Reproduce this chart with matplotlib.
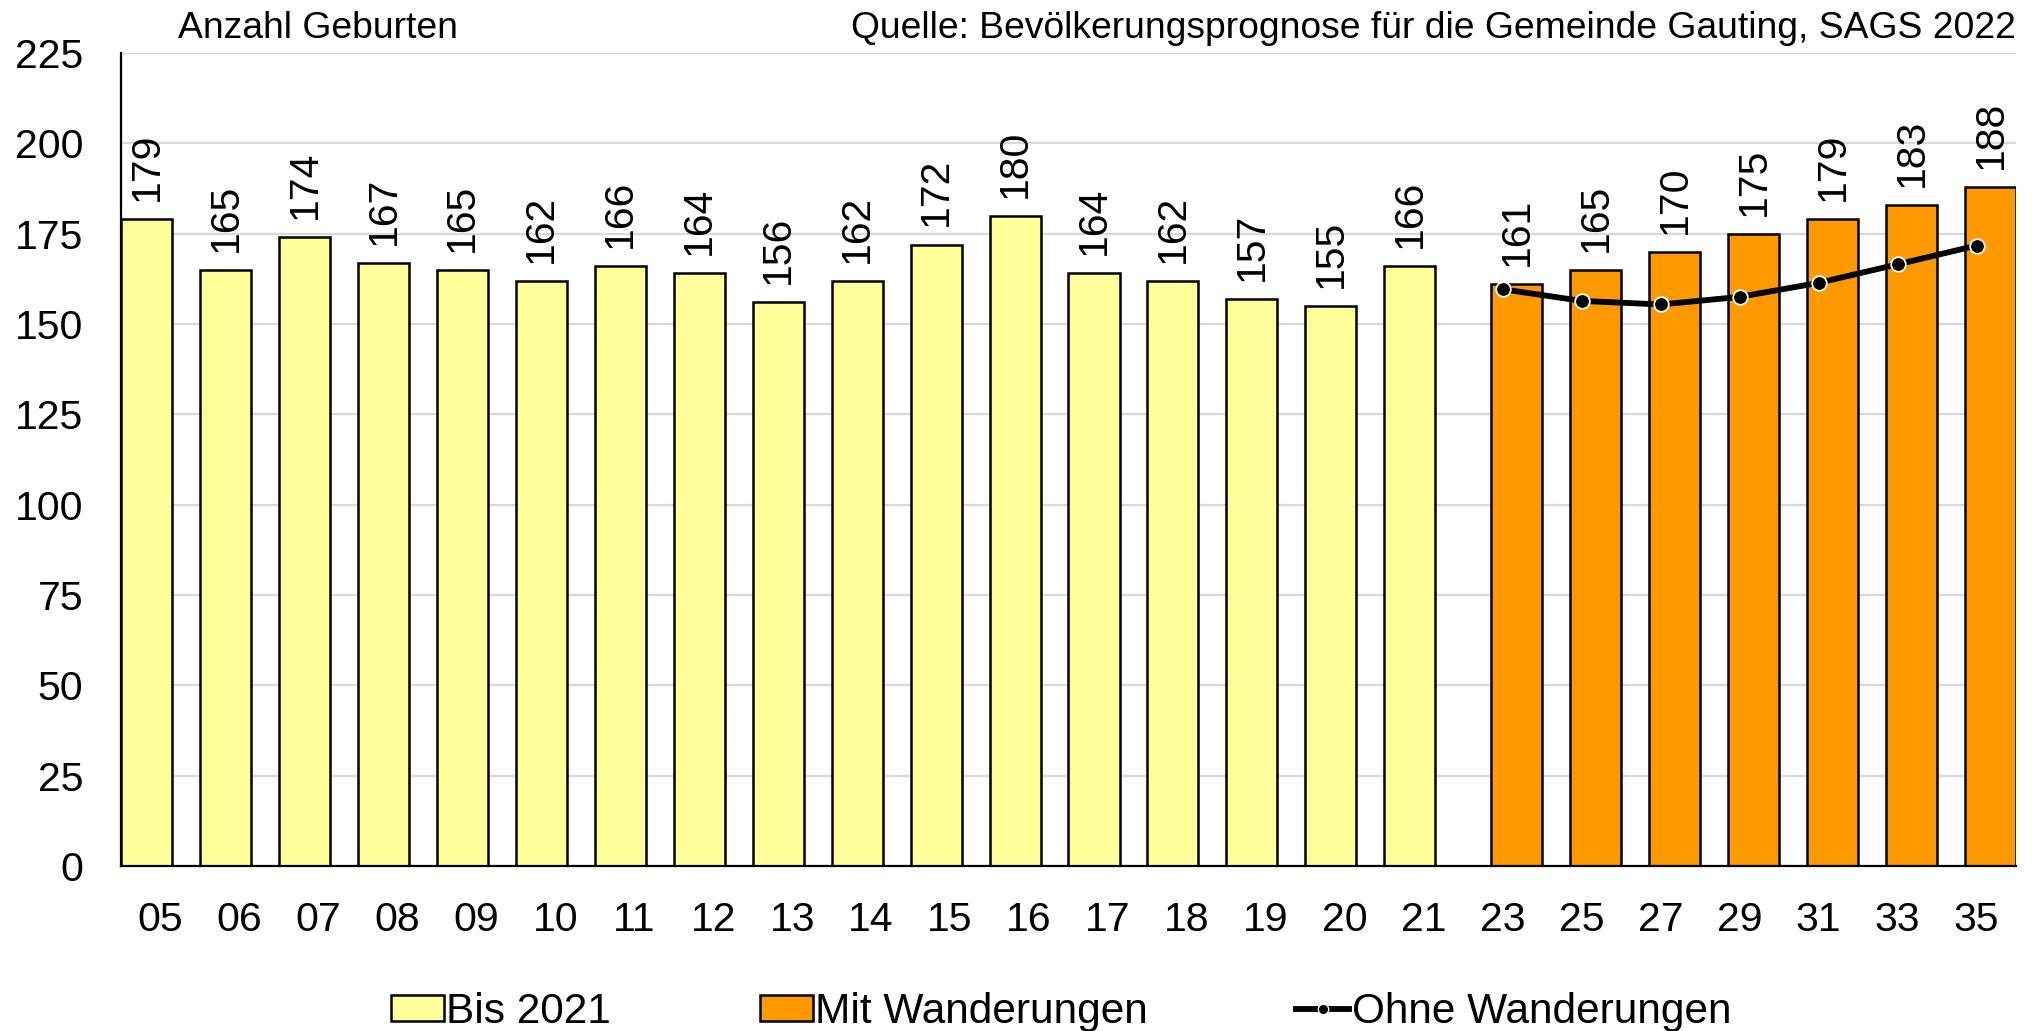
import numpy as np
import matplotlib.pyplot as plt
from matplotlib.patches import Patch
from matplotlib.lines import Line2D

plt.rcParams['font.family'] = ['Liberation Sans', 'DejaVu Sans']

# data
jahre = ['05', '06', '07', '08', '09', '10', '11', '12', '13', '14', '15', '16',
         '17', '18', '19', '20', '21', '23', '25', '27', '29', '31', '33', '35']
bis_2021 = [179, 165, 174, 167, 165, 162, 166, 164, 156, 162, 172, 180, 164, 162, 157, 155, 166]
mit_wanderungen = [161, 165, 170, 175, 179, 183, 188]
ohne_wanderungen = [159.6, 156.4, 155.4, 157.5, 161.4, 166.5, 171.7]

yticks = [0, 25, 50, 75, 100, 125, 150, 175, 200, 225]

GELB = '#FFFF99'
ORANGE = '#FF9900'
GRID = '#D9D9D9'

x = np.arange(len(jahre))
n_hist = len(bis_2021)
x_hist = x[:n_hist]
x_prog = x[n_hist:]

# two clustered series per category, each sits off-centre
shift = 0.177
width = 0.646

fig = plt.figure(figsize=(20.4, 10.31), dpi=100)
ax = fig.add_axes([121 / 2040, 165 / 1031, 1895 / 2040, 813 / 1031])

bars1 = ax.bar(x_hist - shift, bis_2021, width=width, color=GELB,
               edgecolor='black', linewidth=1.8, zorder=2)
bars2 = ax.bar(x_prog + shift, mit_wanderungen, width=width, color=ORANGE,
               edgecolor='black', linewidth=1.8, zorder=2)

ax.plot(x_prog, ohne_wanderungen, color='black', lw=4.2, marker='o',
        markersize=10.5, markerfacecolor='black', markeredgecolor='white',
        markeredgewidth=1.3, zorder=4)

for bars in (bars1, bars2):
    for b in bars:
        ax.annotate(f'{int(b.get_height())}',
                    (b.get_x() + b.get_width() / 2, b.get_height()),
                    xytext=(0, 13), textcoords='offset points',
                    rotation=90, ha='center', va='bottom', fontsize=29.5, zorder=5)

ax.set_xlim(-0.5, len(jahre) - 0.5)
ax.set_ylim(0, 225)
ax.set_yticks(yticks)
ax.set_xticks(x)
ax.set_xticklabels(jahre)
ax.tick_params(axis='both', length=0, labelsize=29.5)
ax.tick_params(axis='y', pad=27)
ax.tick_params(axis='x', pad=25)

ax.yaxis.grid(True, color=GRID, lw=1.6)
ax.set_axisbelow(True)
for s in ('top', 'right'):
    ax.spines[s].set_visible(False)
ax.spines['left'].set_linewidth(1.6)
ax.spines['bottom'].set_linewidth(1.6)
ax.spines['bottom'].set_zorder(3)

fig.text(178 / 2040, 1 - 38 / 1031, 'Anzahl Geburten', fontsize=26.8,
         ha='left', va='baseline')
fig.text(2016 / 2040, 1 - 38 / 1031,
         'Quelle: Bevölkerungsprognose für die Gemeinde Gauting, SAGS 2022',
         fontsize=26.8, ha='right', va='baseline')

handles = [
    Patch(facecolor=GELB, edgecolor='black', linewidth=1.8),
    Patch(facecolor=ORANGE, edgecolor='black', linewidth=1.8),
    Line2D([0], [0], color='black', lw=4.2, marker='o', markersize=7.5,
           markerfacecolor='black', markeredgecolor='white', markeredgewidth=1),
]
fig.legend(handles, ['Bis 2021', 'Mit Wanderungen', 'Ohne Wanderungen'],
           loc='center', bbox_to_anchor=(1061 / 2040, 1 - 1012 / 1031),
           ncol=3, frameon=False, fontsize=30.5, handlelength=1.25,
           handleheight=0.55, handletextpad=0.06, columnspacing=3.5,
           borderpad=0, borderaxespad=0)

fig.savefig('out.png', dpi=100)
